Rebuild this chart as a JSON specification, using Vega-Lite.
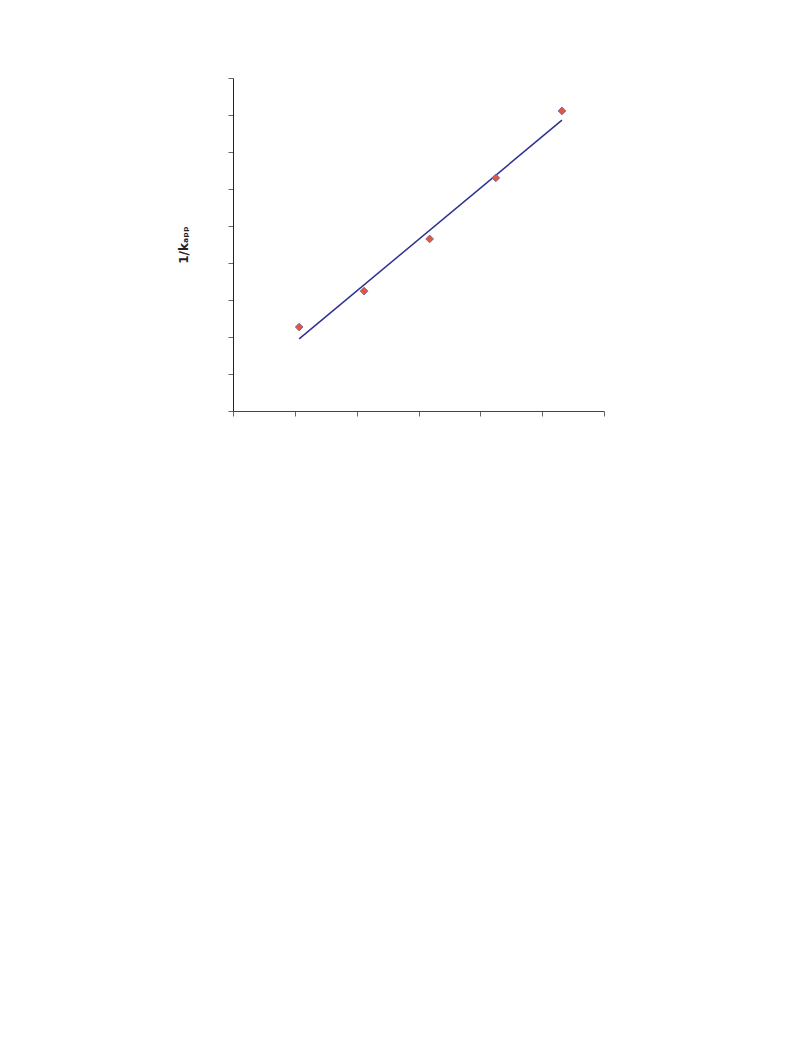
{
  "$schema": "https://vega.github.io/schema/vega-lite/v6.json",
  "width": 371,
  "height": 333,
  "autosize": {"type": "none"},
  "padding": {"left": 233, "top": 78, "right": 189, "bottom": 646},
  "background": "white",
  "config": {"view": {"stroke": null}},
  "datasets": {
    "pts": [
      {"x": 1.07, "y": 2.27},
      {"x": 2.12, "y": 3.24},
      {"x": 3.18, "y": 4.65},
      {"x": 4.25, "y": 6.30},
      {"x": 5.32, "y": 8.11}
    ],
    "fit": [
      {"x": 1.07, "y": 1.95},
      {"x": 5.32, "y": 7.86}
    ]
  },
  "encoding": {
    "x": {"field": "x", "type": "quantitative", "scale": {"domain": [0, 6], "nice": false, "zero": false},
      "axis": {"values": [0, 1, 2, 3, 4, 5, 6], "labels": false, "title": null, "grid": false, "domainColor": "#444444", "tickColor": "#666666", "tickSize": 5}},
    "y": {"field": "y", "type": "quantitative", "scale": {"domain": [0, 9], "nice": false, "zero": false},
      "axis": {"values": [0, 1, 2, 3, 4, 5, 6, 7, 8, 9], "labels": false, "grid": false, "domainColor": "#222222", "tickColor": "#666666", "tickSize": 5,
        "title": "1/kₐₚₚ", "titleFont": "DejaVu Sans", "titleFontSize": 12, "titleFontWeight": "bold", "titleColor": "#222222", "titlePadding": 37}}
  },
  "layer": [
    {
      "data": {"name": "fit"},
      "mark": {"type": "line", "color": "#2E3192", "strokeWidth": 1.5}
    },
    {
      "data": {"name": "pts"},
      "mark": {"type": "point", "shape": "diamond", "filled": true, "fill": "#E8553D", "stroke": "#5B5EA6", "strokeWidth": 0.8, "size": 60, "opacity": 1}
    }
  ]
}
